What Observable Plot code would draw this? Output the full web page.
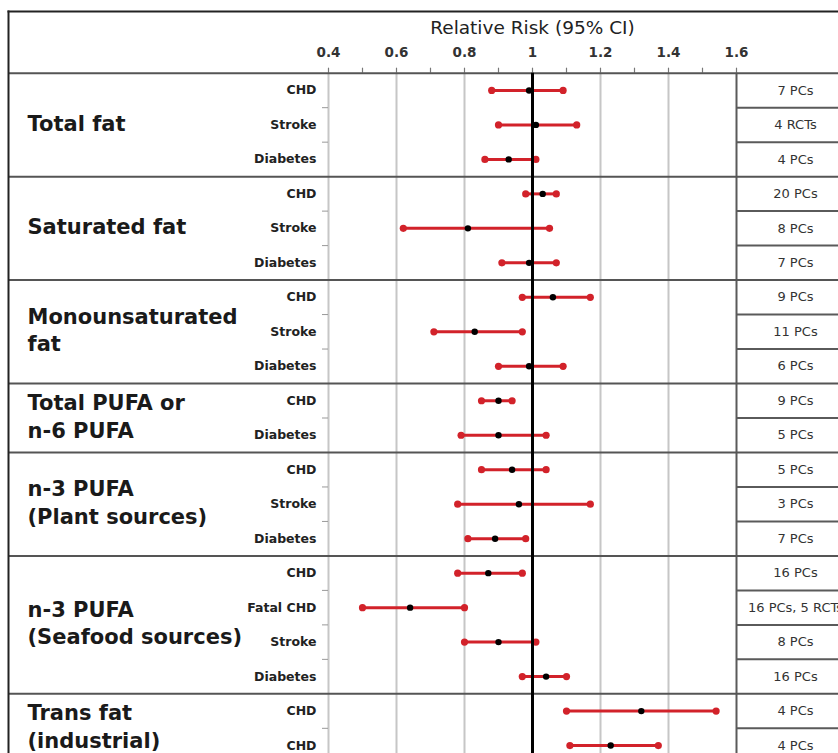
<!DOCTYPE html>
<html>
<head>
<meta charset="utf-8">
<script src="https://cdn.jsdelivr.net/npm/d3@7"></script>
<script src="https://cdn.jsdelivr.net/npm/@observablehq/plot@0.6"></script>
<style>
html, body { margin: 0; padding: 0; background: #fff; overflow: hidden; }
#chart { width: 838px; height: 753px; overflow: hidden; }
</style>
</head>
<body>
<div id="chart"></div>
<script>
// ---- data ----
const groups = ["Total fat", "Saturated fat", "Monounsaturated\nfat", "Total PUFA or\nn-6 PUFA",
  "n-3 PUFA\n(Plant sources)", "n-3 PUFA\n(Seafood sources)", "Trans fat\n(industrial)"];
const groupSizes = [3, 3, 3, 2, 3, 4, 2];
const outcomes = ["CHD", "Stroke", "Diabetes", "CHD", "Stroke", "Diabetes", "CHD", "Stroke", "Diabetes",
  "CHD", "Diabetes", "CHD", "Stroke", "Diabetes", "CHD", "Fatal CHD", "Stroke", "Diabetes", "CHD", "CHD"];
const rr    = [0.99, 1.01, 0.93, 1.03, 0.81, 0.99, 1.06, 0.83, 0.99, 0.90, 0.90, 0.94, 0.96, 0.89, 0.87, 0.64, 0.90, 1.04, 1.32, 1.23];
const lower = [0.88, 0.90, 0.86, 0.98, 0.62, 0.91, 0.97, 0.71, 0.90, 0.85, 0.79, 0.85, 0.78, 0.81, 0.78, 0.50, 0.80, 0.97, 1.10, 1.11];
const upper = [1.09, 1.13, 1.01, 1.07, 1.05, 1.07, 1.17, 0.97, 1.09, 0.94, 1.04, 1.04, 1.17, 0.98, 0.97, 0.80, 1.01, 1.10, 1.54, 1.37];
const evidence = ["7 PCs", "4 RCTs", "4 PCs", "20 PCs", "8 PCs", "7 PCs", "9 PCs", "11 PCs", "6 PCs", "9 PCs",
  "5 PCs", "5 PCs", "3 PCs", "7 PCs", "16 PCs", "16 PCs, 5 RCTs", "8 PCs", "16 PCs", "4 PCs", "4 PCs"];
const xTicks = [0.4, 0.6, 0.8, 1, 1.2, 1.4, 1.6];
const tickLabels = ["0.4", "0.6", "0.8", "1", "1.2", "1.4", "1.6"];
const minorTicks = [0.4, 0.5, 0.6, 0.7, 0.8, 0.9, 1.0, 1.1, 1.2, 1.3, 1.4, 1.5, 1.6];
const axisTitle = "Relative Risk (95% CI)";

// ---- derived tables ----
const rows = outcomes.map((o, i) => ({
  y: i + 0.5, outcome: o, rr: rr[i], lo: lower[i], hi: upper[i], evidence: evidence[i]
}));
let start = 0;
const sections = groups.map((g, k) => {
  const s = start; start += groupSizes[k];
  return { label: g, start: s, end: start, mid: (s + start) / 2 };
});
const sectionBounds = [0, ...sections.map(s => s.end)];
const innerBounds = d3.range(1, rows.length).filter(b => !sectionBounds.includes(b));
const xMin = xTicks[0], xMax = xTicks[xTicks.length - 1];
const red = "#d2222a";
const W = 838;
const xRange = [328, 736];

const plot = Plot.plot({
  width: W, height: 753,
  marginLeft: 8, marginRight: 0, marginTop: 11, marginBottom: 0,
  style: { fontFamily: "DejaVu Sans", background: "#fff", overflow: "hidden" },
  x: { domain: [xMin, xMax], range: xRange, axis: null },
  y: { domain: [0, rows.length], range: [72.7, 762.3], axis: null },
  marks: [
    // grid
    Plot.ruleX(xTicks.filter(v => v !== 1 && v !== xMax), { y1: 0, y2: rows.length, stroke: "#c6c6c6", strokeWidth: 2 }),
    Plot.ruleX(minorTicks, { y1: 0, y2: 0, insetTop: -5, stroke: "#777", strokeWidth: 1.2 }),
    // right panel row boxes (from the 1.6 edge to the right border)
    Plot.ruleY(innerBounds, { x1: xMax, x2: xMax, insetRight: -(W - xRange[1]), stroke: "#5a5a5a", strokeWidth: 2 }),
    // small y ticks left of plot
    Plot.ruleY(innerBounds, { x1: xMin, x2: xMin, insetLeft: -6, stroke: "#999", strokeWidth: 1 }),
    Plot.ruleX([xMax], { y1: 0, y2: rows.length, stroke: "#5a5a5a", strokeWidth: 2 }),
    // section separators & borders
    Plot.ruleY(sectionBounds, { stroke: "#555", strokeWidth: 2 }),
    Plot.frame({ anchor: "left", stroke: "#222", strokeWidth: 2 }),
    Plot.frame({ anchor: "top", stroke: "#222", strokeWidth: 2 }),
    // CIs
    Plot.ruleY(rows, { y: "y", x1: "lo", x2: "hi", stroke: red, strokeWidth: 3 }),
    Plot.dot(rows, { x: "lo", y: "y", r: 3.6, fill: red }),
    Plot.dot(rows, { x: "hi", y: "y", r: 3.6, fill: red }),
    // null line
    Plot.ruleX([1], { y1: 0, y2: rows.length, stroke: "#000", strokeWidth: 3 }),
    // point estimates
    Plot.dot(rows, { x: "rr", y: "y", r: 3.2, fill: "#000" }),
    // header texts
    Plot.text([axisTitle], { x: (xMin + xMax) / 2, frameAnchor: "top", dy: 17, lineAnchor: "middle", fontSize: 18.5, fill: "#222" }),
    Plot.text(xTicks, { x: d => d, text: (d, i) => tickLabels[i], frameAnchor: "top", dy: 41, lineAnchor: "middle",
      fontSize: 13.5, fontWeight: "bold", fill: "#333" }),
    // left labels
    Plot.text(sections, { y: "mid", text: "label", frameAnchor: "left", dx: 19, dy: -3, textAnchor: "start", lineAnchor: "middle",
      fontSize: 21, fontWeight: "bold", lineHeight: 1.31, fill: "#1a1a1a" }),
    Plot.text(rows, { x: xMin, y: "y", text: "outcome", textAnchor: "end", dx: -12, fontSize: 12.5, fontWeight: "bold", fill: "#222" }),
    // right panel evidence
    Plot.text(rows, { x: xMax, y: "y", text: "evidence", dx: 59, textAnchor: "middle", fontSize: 13, fill: "#333" })
  ]
});
document.getElementById("chart").appendChild(plot);
</script>
</body>
</html>
